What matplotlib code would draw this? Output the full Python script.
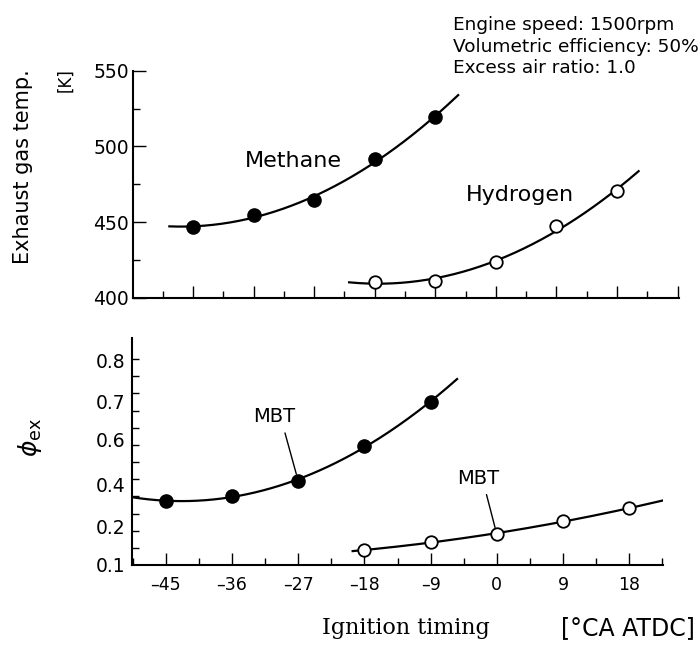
import numpy as np
import matplotlib
matplotlib.use("Agg")
import matplotlib.pyplot as plt
from matplotlib.ticker import FixedLocator, NullFormatter

# ---------------- data ----------------
timing_methane = [-45, -36, -27, -18, -9]
timing_hydrogen = [-18, -9, 0, 9, 18]
temp_methane = [447.0, 454.5, 464.6, 491.5, 519.6]
temp_hydrogen = [410.6, 411.0, 423.8, 447.4, 470.5]
phi_methane = [0.324, 0.348, 0.418, 0.573, 0.700]
phi_hydrogen = [0.139, 0.161, 0.181, 0.229, 0.289]

# x extents of the drawn trend curves
curve_top_methane = (-48.5, -5.6)
curve_top_hydrogen = (-21.8, 21.2)
curve_bot_methane = (-49.6, -5.4)
curve_bot_hydrogen = (-19.6, 22.5)

x_ticks = [-45, -36, -27, -18, -9, 0, 9, 18]
temp_ticks = [400, 450, 500, 550]
phi_ticks = [0.1, 0.2, 0.4, 0.6, 0.7, 0.8]

# ---------------- phi axis scale (non-uniform label spacing) ----------------
scale_vals = np.array([0.0, 0.1, 0.2, 0.4, 0.6, 0.7, 0.8, 1.0])
scale_pos = np.array([-38.0, 0.0, 38.0, 80.0, 125.0, 163.3, 204.0, 285.4])


def fwd(v):
    return np.interp(v, scale_vals, scale_pos)


def inv(p):
    return np.interp(p, scale_pos, scale_vals)


fig = plt.figure(figsize=(7.0, 6.49), dpi=100)
plt.rcParams["font.family"] = ["DejaVu Sans"]

lw = 1.6
ms = 9.5

# ---------------- top panel ----------------
ax1 = fig.add_axes([133 / 700, 1 - 298 / 649, (679 - 133) / 700, (298 - 70.7) / 649])
for sp in ("top", "right"):
    ax1.spines[sp].set_visible(False)
for sp in ("left", "bottom"):
    ax1.spines[sp].set_linewidth(1.5)

for xs, ys, rng in ((timing_methane, temp_methane, curve_top_methane),
                    (timing_hydrogen, temp_hydrogen, curve_top_hydrogen)):
    c = np.polyfit(xs, ys, 2)
    xx = np.linspace(rng[0], rng[1], 200)
    ax1.plot(xx, np.polyval(c, xx), color="black", lw=lw, zorder=2)

ax1.plot(timing_methane, temp_methane, "o", color="black", ms=ms, zorder=3)
ax1.plot(timing_hydrogen, temp_hydrogen, "o", mfc="white", mec="black",
         mew=1.3, ms=ms - 0.5, zorder=3)

ax1.set_xlim(-53.9, 27.2)
ax1.set_ylim(400, 550)
ax1.set_xticks(x_ticks + [27])
ax1.xaxis.set_minor_locator(FixedLocator(np.array(x_ticks + [27]) - 4.5))
ax1.set_yticks(temp_ticks)
ax1.yaxis.set_minor_locator(FixedLocator([425, 475, 525]))
ax1.tick_params(axis="x", which="both", direction="in", labelbottom=False)
ax1.tick_params(axis="both", which="major", direction="in", length=9, width=1)
ax1.tick_params(axis="both", which="minor", direction="in", length=5, width=1)
ax1.tick_params(axis="y", labelsize=13.5, pad=3)

ax1.text(-30.1, 490.3, "Methane", fontsize=16, ha="center", va="center")
ax1.text(3.6, 467.8, "Hydrogen", fontsize=16, ha="center", va="center")

# ---------------- bottom panel ----------------
ax2 = fig.add_axes([132 / 700, 1 - 565 / 649, (663 - 132) / 700, (565 - 338) / 649])
ax2.set_yscale("function", functions=(fwd, inv))
for sp in ("top", "right"):
    ax2.spines[sp].set_visible(False)
for sp in ("left", "bottom"):
    ax2.spines[sp].set_linewidth(1.5)

for xs, ys, rng in ((timing_methane, phi_methane, curve_bot_methane),
                    (timing_hydrogen, phi_hydrogen, curve_bot_hydrogen)):
    c = np.polyfit(xs, fwd(np.array(ys)), 2)
    xx = np.linspace(rng[0], rng[1], 200)
    ax2.plot(xx, inv(np.polyval(c, xx)), color="black", lw=lw, zorder=2)

ax2.plot(timing_methane, phi_methane, "o", color="black", ms=ms, zorder=3)
ax2.plot(timing_hydrogen, phi_hydrogen, "o", mfc="white", mec="black",
         mew=1.3, ms=ms - 0.5, zorder=3)

ax2.set_xlim(-49.6, 22.6)
ax2.set_ylim(0.1, inv(227.0))
ax2.set_xticks(x_ticks)
ax2.set_xticklabels([str(t).replace("-", "\u2013") for t in x_ticks])
ax2.xaxis.set_minor_locator(FixedLocator(np.array(x_ticks + [27]) - 4.5))
ax2.set_yticks(phi_ticks)
ax2.set_yticklabels([f"{t:.1f}" for t in phi_ticks])
ax2.yaxis.set_minor_locator(FixedLocator(inv(np.arange(13) * 206.0 / 12)))
ax2.yaxis.set_minor_formatter(NullFormatter())
ax2.tick_params(axis="x", which="major", direction="in", length=9, width=1,
                labelsize=12.5, pad=8)
ax2.tick_params(axis="x", which="minor", direction="in", length=5, width=1)
ax2.tick_params(axis="y", which="major", direction="in", length=0,
                labelsize=13.5, pad=5)
ax2.tick_params(axis="y", which="minor", direction="in", length=5, width=1)

ax2.annotate("MBT", xy=(timing_methane[2], phi_methane[2]), xytext=(-30.2, 0.661),
             fontsize=14, ha="center", va="center",
             arrowprops=dict(arrowstyle="-", lw=1, color="black",
                             relpos=(0.7, 0.0), shrinkA=3, shrinkB=5))
ax2.annotate("MBT", xy=(timing_hydrogen[2], phi_hydrogen[2]), xytext=(-2.5, 0.43),
             fontsize=14, ha="center", va="center",
             arrowprops=dict(arrowstyle="-", lw=1, color="black",
                             relpos=(0.65, 0.0), shrinkA=3, shrinkB=5))

# ---------------- labels ----------------
fig.text(23 / 700, 1 - 167 / 649, "Exhaust gas temp.", fontsize=15,
         rotation=90, ha="center", va="center")
fig.text(65 / 700, 1 - 80 / 649, "[K]", fontsize=12, rotation=90,
         ha="center", va="center")
fig.text(30 / 700, 1 - 437 / 649, r"$\phi_{\rm ex}$", fontsize=18,
         rotation=90, ha="center", va="center")
fig.text(406 / 700, 1 - 628 / 649, "Ignition timing", fontsize=16,
         family="DejaVu Serif", ha="center", va="center")
fig.text(628 / 700, 1 - 628 / 649, "[\u00b0CA ATDC]", fontsize=17,
         ha="center", va="center")

info = ["Engine speed: 1500rpm", "Volumetric efficiency: 50%", "Excess air ratio: 1.0"]
for i, line in enumerate(info):
    fig.text(453 / 700, 1 - (30 + 21.5 * i) / 649, line, fontsize=13.3,
             ha="left", va="baseline")

fig.savefig("out.png", dpi=100)
